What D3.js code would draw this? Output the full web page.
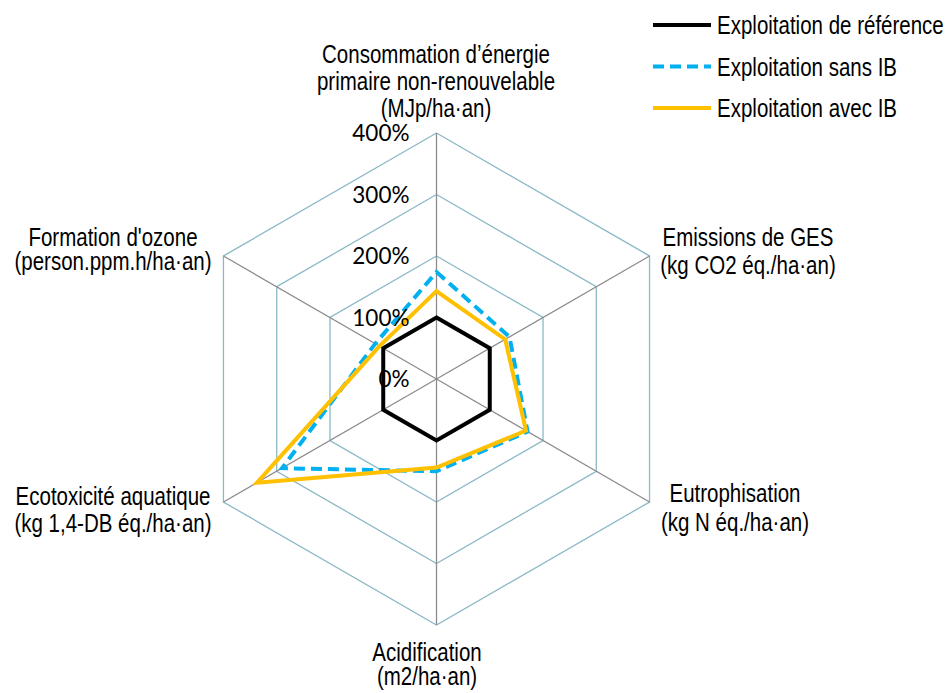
<!DOCTYPE html>
<html><head><meta charset="utf-8">
<script src="https://cdn.jsdelivr.net/npm/d3@7"></script>
<style>body{margin:0;background:#fff}svg{display:block}</style>
</head><body>
<svg id="c" width="951" height="693"></svg>
<script>
const axes = [
  ["Consommation d’énergie","primaire non-renouvelable","(MJp/ha·an)"],
  ["Emissions de GES","(kg CO2 éq./ha·an)"],
  ["Eutrophisation","(kg N éq./ha·an)"],
  ["Acidification","(m2/ha·an)"],
  ["Ecotoxicité aquatique","(kg 1,4-DB éq./ha·an)"],
  ["Formation d'ozone","(person.ppm.h/ha·an)"]
];
const seriesNames = ["Exploitation de référence","Exploitation sans IB","Exploitation avec IB"];
const reference = [100,100,100,100,100,100];
const sansIB   = [174,137,171,150,290,115];
const avecIB   = [143,129,168,144,337,107];
const tickValues = [0,100,200,300,400];
const tickLabels = ["0%","100%","200%","300%","400%"];

const svg = d3.select("#c");
const cx = 436.5, cy = 379, R = 246;
const r = d3.scaleLinear().domain([0,400]).range([0,R]);
const ang = d3.scaleLinear().domain([0,axes.length]).range([0,2*Math.PI]);
const pt = (i,v)=>[cx + r(v)*Math.sin(ang(i)), cy - r(v)*Math.cos(ang(i))];
const idx = d3.range(axes.length);

const g = svg.append("g");
tickValues.slice(1).forEach(t=>{
  g.append("path").attr("d", d3.line()(idx.map(i=>pt(i,t)).concat([pt(0,t)])))
   .attr("fill","none").attr("stroke","#8BB9C6").attr("stroke-width",1.3);
});
idx.forEach(i=>{
  const [x,y]=pt(i,400);
  g.append("line").attr("x1",cx).attr("y1",cy).attr("x2",x).attr("y2",y)
   .attr("stroke","#8C8C8C").attr("stroke-width",1.3);
});

const styles = [
  {data:reference,color:"#000000",dash:null},
  {data:sansIB,color:"#00B0F0",dash:"11,6"},
  {data:avecIB,color:"#FFC000",dash:null}
];
const line = d3.line().curve(d3.curveLinearClosed);
styles.forEach(s=>{
  svg.append("path").attr("d", line(idx.map(i=>pt(i,s.data[i]))))
    .attr("fill","none").attr("stroke",s.color).attr("stroke-width",4)
    .attr("stroke-linejoin","miter").attr("stroke-dasharray",s.dash);
});

svg.selectAll("text.tick").data(tickValues).enter().append("text")
  .attr("x", cx-27).attr("y", d=>cy - r(d)+8)
  .attr("text-anchor","end").attr("font-family","Lato, 'Open Sans', sans-serif")
  .attr("font-size",22.5).attr("fill","#000").text((d,i)=>tickLabels[i]);

const FF = "'Liberation Sans',Arial,sans-serif";
function narrowText(x,y,anchor,lines,dy,size){
  const t = svg.append("g").attr("transform",`translate(${x},${y}) scale(0.82,1)`)
    .append("text").attr("font-family",FF).attr("font-size",size)
    .attr("text-anchor",anchor).attr("fill","#000");
  lines.forEach((l,j)=>t.append("tspan").attr("x",0).attr("y",j*dy).text(l));
}
const labelPos = [
  {x:436, y:63, anchor:"middle", dy:27},
  {x:748, y:246, anchor:"middle", dy:28},
  {x:735, y:502, anchor:"middle", dy:29},
  {x:427, y:661, anchor:"middle", dy:24},
  {x:113, y:505, anchor:"middle", dy:27},
  {x:113, y:246, anchor:"middle", dy:24}
];
axes.forEach((lines,i)=>{
  const p = labelPos[i];
  narrowText(p.x,p.y,p.anchor,lines,p.dy,25);
});

seriesNames.forEach((n,i)=>{
  const y = 25 + i*41.5;
  svg.append("line").attr("x1",653).attr("x2",711).attr("y1",y).attr("y2",y)
    .attr("stroke",styles[i].color).attr("stroke-width",4).attr("stroke-dasharray",styles[i].dash);
  narrowText(717,y+9,"start",[n],0,25);
});
</script>
</body></html>
